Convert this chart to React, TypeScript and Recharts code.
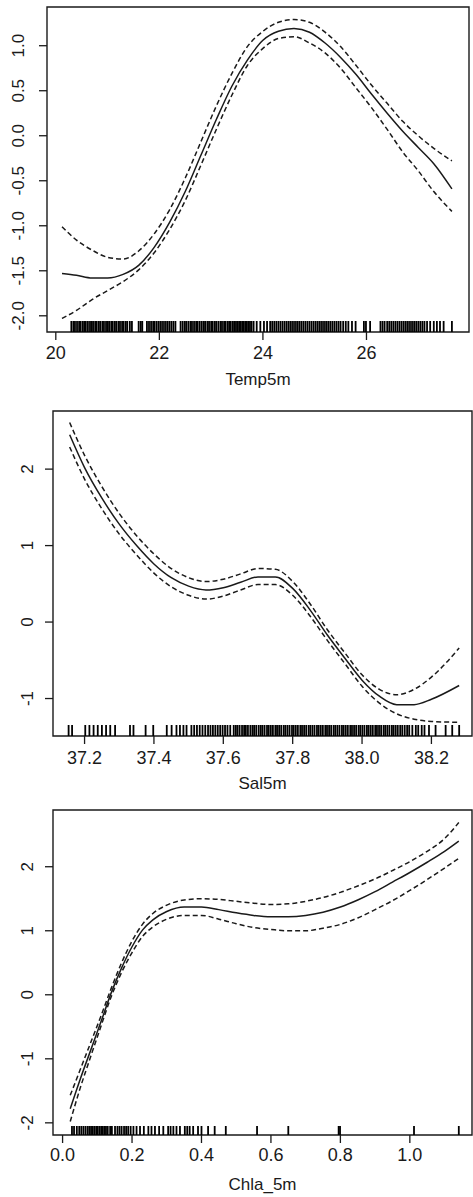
import { ComposedChart, Line, Scatter, XAxis, YAxis, ReferenceArea, Label } from 'recharts';

const FONT = '"Liberation Sans", Arial, Helvetica, sans-serif';
const INK = '#1a1a1a';

// Temp5m panel
const tempX = [20.12, 20.4, 20.7, 21.0, 21.3, 21.6, 21.9, 22.2, 22.5, 22.8, 23.1, 23.4, 23.7, 24.0, 24.3, 24.6, 24.9, 25.2, 25.5, 25.8, 26.1, 26.4, 26.7, 27.0, 27.3, 27.65];
const tempFit = [-1.53, -1.55, -1.58, -1.58, -1.54, -1.44, -1.24, -0.96, -0.62, -0.22, 0.18, 0.55, 0.84, 1.06, 1.16, 1.19, 1.15, 1.03, 0.87, 0.68, 0.46, 0.25, 0.05, -0.13, -0.31, -0.59];
const tempUpper = [-1.01, -1.16, -1.27, -1.35, -1.37, -1.28, -1.09, -0.82, -0.47, -0.07, 0.33, 0.69, 0.99, 1.16, 1.26, 1.29, 1.26, 1.15, 0.99, 0.78, 0.56, 0.36, 0.16, 0.0, -0.14, -0.28];
const tempLower = [-2.03, -1.94, -1.82, -1.72, -1.62, -1.49, -1.3, -1.04, -0.72, -0.33, 0.07, 0.45, 0.78, 0.97, 1.08, 1.1, 1.03, 0.92, 0.75, 0.53, 0.31, 0.07, -0.18, -0.39, -0.62, -0.84];
const tempRug = [
  20.3, 20.34, 20.37, 20.41, 20.45, 20.48, 20.52, 20.55, 20.58, 20.62, 20.66, 20.69, 20.72, 20.76, 20.79, 20.83, 20.86, 20.9,
  20.93, 20.97, 21.0, 21.03, 21.07, 21.1, 21.14, 21.17, 21.21, 21.24, 21.28, 21.31, 21.35, 21.38, 21.43, 21.47,
  21.6, 21.64, 21.67,
  21.76, 21.8, 21.84, 21.88, 21.91, 21.95, 21.99, 22.03, 22.07, 22.11, 22.15, 22.19, 22.23, 22.27, 22.31,
  22.41, 22.45, 22.49, 22.52, 22.56, 22.6, 22.63, 22.67, 22.71, 22.74, 22.78, 22.82, 22.86, 22.89, 22.93, 22.96, 23.0, 23.03,
  23.07, 23.1, 23.14, 23.18, 23.21, 23.25, 23.28, 23.32, 23.35, 23.38, 23.42, 23.45, 23.48, 23.51, 23.54, 23.57, 23.6, 23.63,
  23.66, 23.69, 23.72, 23.75, 23.78, 23.82,
  23.88, 23.95, 24.02, 24.08,
  24.14, 24.18, 24.22, 24.26, 24.3, 24.34, 24.38, 24.42, 24.46, 24.5, 24.54, 24.58, 24.62, 24.66, 24.7, 24.74, 24.78, 24.82,
  24.86, 24.9, 24.94, 24.98, 25.02, 25.06, 25.1, 25.14, 25.18, 25.22, 25.26, 25.3, 25.34, 25.38, 25.42, 25.46, 25.5, 25.55,
  25.6, 25.65, 25.72, 25.79,
  25.95, 25.99, 26.07,
  26.27, 26.31, 26.35, 26.4, 26.44, 26.48, 26.52, 26.56, 26.6, 26.64, 26.68, 26.72, 26.76, 26.8, 26.84, 26.88, 26.92, 26.96,
  27.0, 27.04, 27.08, 27.12, 27.17, 27.23,
  27.3, 27.36, 27.42, 27.49, 27.65,
];

// Sal5m panel
const salX = [37.157, 37.2, 37.25, 37.3, 37.35, 37.4, 37.45, 37.5, 37.55, 37.6, 37.65, 37.7, 37.75, 37.8, 37.85, 37.9, 37.95, 38.0, 38.05, 38.1, 38.15, 38.2, 38.28];
const salFit = [2.45, 2.02, 1.62, 1.28, 1.0, 0.76, 0.58, 0.47, 0.42, 0.45, 0.52, 0.59, 0.59, 0.44, 0.16, -0.17, -0.47, -0.76, -0.97, -1.08, -1.08, -1.01, -0.83];
const salUpper = [2.61, 2.18, 1.77, 1.42, 1.13, 0.89, 0.7, 0.58, 0.53, 0.56, 0.63, 0.7, 0.69, 0.53, 0.24, -0.1, -0.4, -0.69, -0.88, -0.95, -0.88, -0.72, -0.34];
const salLower = [2.29, 1.87, 1.48, 1.15, 0.88, 0.64, 0.46, 0.35, 0.3, 0.34, 0.42, 0.49, 0.49, 0.35, 0.08, -0.24, -0.54, -0.84, -1.06, -1.2, -1.27, -1.3, -1.31];
const salRug = [
  37.154, 37.164, 37.202, 37.214, 37.226, 37.238, 37.25, 37.262, 37.274, 37.288, 37.331, 37.341, 37.376, 37.398,
  37.437, 37.451, 37.465, 37.475, 37.485, 37.494, 37.508, 37.516, 37.524, 37.532, 37.54, 37.548, 37.556, 37.563,
  37.57, 37.577, 37.584, 37.591, 37.598, 37.605, 37.612, 37.62,
  37.63, 37.636, 37.641, 37.647, 37.654, 37.66, 37.665, 37.671, 37.678, 37.684, 37.689, 37.695, 37.702, 37.708,
  37.713, 37.719, 37.726, 37.731, 37.737, 37.743, 37.75, 37.755, 37.761, 37.767, 37.774, 37.779, 37.785, 37.791,
  37.798, 37.803, 37.809, 37.815, 37.822, 37.827, 37.833, 37.839, 37.846, 37.851, 37.857, 37.863, 37.87, 37.875,
  37.881, 37.887, 37.894, 37.899, 37.905, 37.911, 37.918, 37.923, 37.929, 37.935, 37.942, 37.947, 37.953, 37.959,
  37.966, 37.971, 37.977, 37.983, 37.99, 37.995, 38.001, 38.007, 38.014, 38.019, 38.025, 38.031, 38.038, 38.043,
  38.049, 38.055, 38.062, 38.067, 38.073, 38.079, 38.086, 38.091, 38.097, 38.103, 38.11, 38.116, 38.123, 38.13,
  38.136, 38.145, 38.155, 38.162, 38.172, 38.18, 38.193, 38.212, 38.241, 38.26, 38.28,
];

// Chla_5m panel
const chlaX = [0.022, 0.05, 0.08, 0.11, 0.14, 0.17, 0.2, 0.23, 0.26, 0.3, 0.35, 0.4, 0.45, 0.5, 0.55, 0.6, 0.65, 0.7, 0.75, 0.8, 0.85, 0.9, 0.95, 1.0, 1.05, 1.1, 1.141];
const chlaFit = [-1.78, -1.33, -0.88, -0.43, 0.03, 0.42, 0.75, 1.01, 1.17, 1.3, 1.37, 1.37, 1.33, 1.28, 1.24, 1.22, 1.22, 1.24, 1.29, 1.37, 1.48, 1.61, 1.76, 1.91, 2.07, 2.24, 2.4];
const chlaUpper = [-1.57, -1.18, -0.76, -0.34, 0.1, 0.5, 0.84, 1.1, 1.27, 1.4, 1.48, 1.5, 1.49, 1.46, 1.43, 1.41, 1.42, 1.46, 1.52, 1.6, 1.7, 1.81, 1.94, 2.08, 2.24, 2.44, 2.69];
const chlaLower = [-1.98, -1.47, -0.98, -0.5, -0.03, 0.35, 0.66, 0.91, 1.06, 1.18, 1.24, 1.24, 1.18, 1.11, 1.05, 1.02, 1.0, 1.0, 1.04, 1.1, 1.2, 1.33, 1.47, 1.63, 1.8, 1.98, 2.13];
const chlaRug = [
  0.027, 0.033, 0.041, 0.048, 0.054, 0.06, 0.066, 0.072, 0.077, 0.082, 0.087, 0.092, 0.097, 0.101, 0.106, 0.111,
  0.116, 0.121, 0.125, 0.13, 0.137, 0.142, 0.151, 0.158, 0.164, 0.17, 0.177, 0.183, 0.189, 0.196, 0.204, 0.213,
  0.223, 0.234, 0.247, 0.256, 0.266, 0.278, 0.29, 0.304, 0.311, 0.319, 0.328, 0.338, 0.352, 0.359, 0.366, 0.376,
  0.39, 0.4, 0.419, 0.438, 0.47, 0.56, 0.65, 0.795, 0.799, 1.012, 1.141,
];

type PanelProps = {
  top: number;
  height: number;
  box: { left: number; right: number; top: number; bottom: number };
  xs: number[];
  fit: number[];
  upper: number[];
  lower: number[];
  rug: number[];
  rugLen: number;
  xDomain: [number, number];
  yDomain: [number, number];
  xTicks: number[];
  yTicks: number[];
  xDec: number;
  yDec: number;
  xLabel: string;
  labelOffset: number;
  tickGap: number;
  yLabelX: number;
};

function Panel(p: PanelProps) {
  const rows = p.xs.map((x, i) => ({ x, fit: p.fit[i], upper: p.upper[i], lower: p.lower[i] }));
  const rugRows = p.rug.map((x) => ({ x, y: p.yDomain[0] }));

  const yTick = (tp: any) => (
    <text
      x={p.yLabelX}
      y={tp.y}
      transform={`rotate(-90 ${p.yLabelX} ${tp.y})`}
      textAnchor="middle"
      dominantBaseline="central"
      fontSize={17}
      fontFamily={FONT}
      fill={INK}
    >
      {Number(tp.payload.value).toFixed(p.yDec)}
    </text>
  );

  const rugShape = (sp: any) => (
    <line x1={sp.cx} x2={sp.cx} y1={sp.cy} y2={sp.cy - p.rugLen} stroke="#000" strokeWidth={1.8} />
  );

  return (
    <div style={{ position: 'absolute', left: 0, top: p.top }}>
      <ComposedChart
        width={473}
        height={p.height}
        data={rows}
        margin={{ top: p.box.top - p.top, right: 473 - p.box.right, bottom: 0, left: 0 }}
      >
        <XAxis
          dataKey="x"
          type="number"
          domain={p.xDomain}
          ticks={p.xTicks}
          interval={0}
          allowDataOverflow
          height={p.top + p.height - p.box.bottom}
          axisLine={false}
          tickSize={8}
          tickMargin={p.tickGap}
          tickLine={{ stroke: INK, strokeWidth: 1.3 }}
          tick={{ fill: INK, fontSize: 18, fontFamily: FONT }}
          tickFormatter={(v: number) => v.toFixed(p.xDec)}
        >
          <Label value={p.xLabel} position="insideBottom" offset={p.labelOffset} fill={INK} fontSize={17} fontFamily={FONT} />
        </XAxis>
        <YAxis
          type="number"
          domain={p.yDomain}
          ticks={p.yTicks}
          interval={0}
          allowDataOverflow
          width={p.box.left}
          axisLine={false}
          tickSize={8}
          tickLine={{ stroke: INK, strokeWidth: 1.3 }}
          tick={yTick}
        />
        <ReferenceArea
          x1={p.xDomain[0]}
          x2={p.xDomain[1]}
          y1={p.yDomain[0]}
          y2={p.yDomain[1]}
          fill="none"
          fillOpacity={0}
          stroke={INK}
          strokeWidth={1.4}
          ifOverflow="visible"
        />
        <Line dataKey="upper" type="monotone" stroke={INK} strokeWidth={1.5} strokeDasharray="5 3" dot={false} isAnimationActive={false} />
        <Line dataKey="lower" type="monotone" stroke={INK} strokeWidth={1.5} strokeDasharray="5 3" dot={false} isAnimationActive={false} />
        <Line dataKey="fit" type="monotone" stroke={INK} strokeWidth={1.5} dot={false} isAnimationActive={false} />
        <Scatter data={rugRows} dataKey="y" shape={rugShape} isAnimationActive={false} />
      </ComposedChart>
    </div>
  );
}

export default function App() {
  return (
    <div style={{ position: 'absolute', left: 0, top: 0, width: 473, height: 1197, background: '#fff', overflow: 'hidden' }}>
      <Panel
        top={0}
        height={395}
        box={{ left: 47, right: 469, top: 7, bottom: 332 }}
        xs={tempX}
        fit={tempFit}
        upper={tempUpper}
        lower={tempLower}
        rug={tempRug}
        rugLen={11}
        xDomain={[19.83, 27.98]}
        yDomain={[-2.18, 1.43]}
        xTicks={[20, 22, 24, 26]}
        yTicks={[-2, -1.5, -1, -0.5, 0, 0.5, 1]}
        xDec={0}
        yDec={1}
        xLabel="Temp5m"
        labelOffset={10}
        tickGap={6}
        yLabelX={19}
      />
      <Panel
        top={395}
        height={400}
        box={{ left: 53, right: 472, top: 411, bottom: 736 }}
        xs={salX}
        fit={salFit}
        upper={salUpper}
        lower={salLower}
        rug={salRug}
        rugLen={11}
        xDomain={[37.109, 38.317]}
        yDomain={[-1.49, 2.76]}
        xTicks={[37.2, 37.4, 37.6, 37.8, 38.0, 38.2]}
        yTicks={[-1, 0, 1, 2]}
        xDec={1}
        yDec={0}
        xLabel="Sal5m"
        labelOffset={6}
        tickGap={7}
        yLabelX={27.5}
      />
      <Panel
        top={795}
        height={402}
        box={{ left: 53, right: 472, top: 810, bottom: 1135 }}
        xs={chlaX}
        fit={chlaFit}
        upper={chlaUpper}
        lower={chlaLower}
        rug={chlaRug}
        rugLen={9}
        xDomain={[-0.0276, 1.179]}
        yDomain={[-2.19, 2.886]}
        xTicks={[0, 0.2, 0.4, 0.6, 0.8, 1.0]}
        yTicks={[-2, -1, 0, 1, 2]}
        xDec={1}
        yDec={0}
        xLabel="Chla_5m"
        labelOffset={7}
        tickGap={5}
        yLabelX={27.5}
      />
    </div>
  );
}
